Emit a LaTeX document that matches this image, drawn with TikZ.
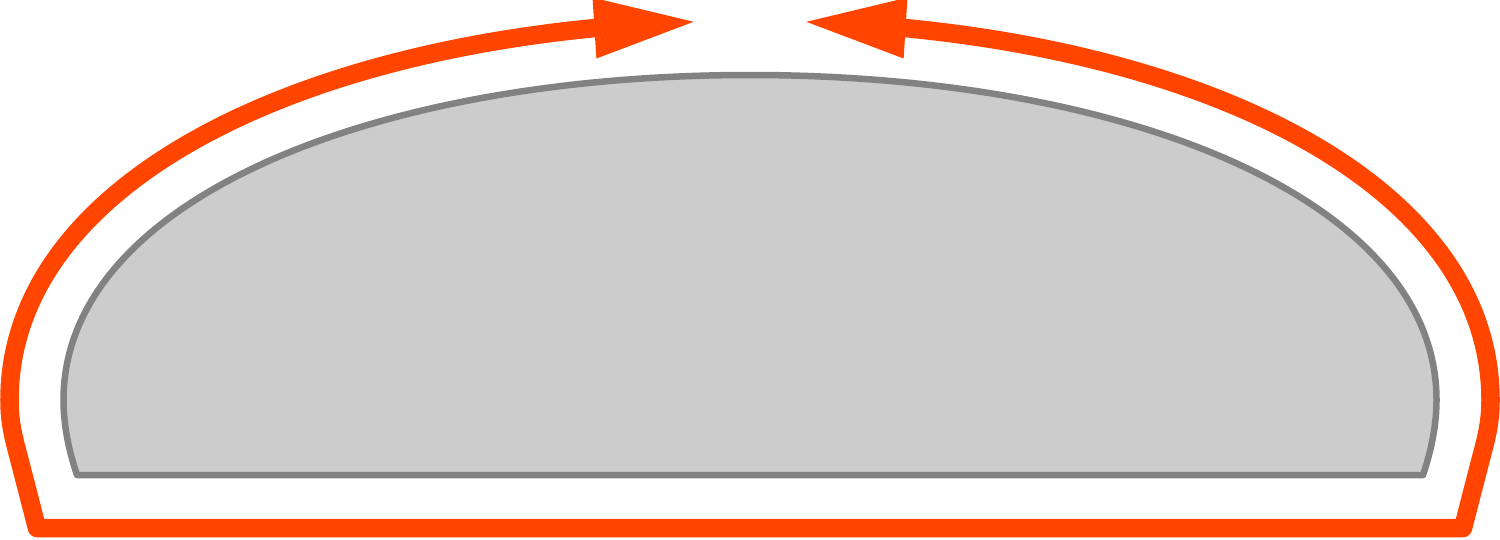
\documentclass[tikz,border=0pt]{standalone}
\usetikzlibrary{arrows.meta,bending}
\definecolor{flow}{HTML}{FF4500}
\definecolor{shapefill}{HTML}{CCCCCC}
\definecolor{shapeline}{HTML}{828282}
\begin{document}
\begin{tikzpicture}[x=0.01cm,y=-0.01cm,
  bodyshape/.style={fill=shapefill,draw=shapeline,line width=0.065cm,line join=round},
  flowline/.style={draw=flow,line width=0.185cm,line join=round,
    {Triangle[length=1.04cm,width=0.55cm]}-{Triangle[length=1.04cm,width=0.55cm]}}]
\useasboundingbox (0,0) rectangle (1500,539);
% grey body
\draw[bodyshape] (77,475) .. controls (68,448.3) and (63.5,423.3) .. (63.5,400)
  .. controls (63.5,200) and (373,75) .. (750,75)
  .. controls (1127,75) and (1436.5,200) .. (1436.5,400)
  .. controls (1436.5,423.3) and (1432,448.3) .. (1423,475) -- cycle;
% orange loop with two arrows
\draw[flowline] (698.3,21.5) .. controls (315.4,33.3) and (9.5,177) .. (9.5,400)
  .. controls (9.5,425) and (14.3,440) .. (20,462) -- (37,528) -- (1463,528) -- (1480,462)
  .. controls (1485.7,440) and (1490.5,425) .. (1490.5,400)
  .. controls (1490.5,177) and (1184.6,33.3) .. (801.7,21.5);
\end{tikzpicture}
\end{document}
